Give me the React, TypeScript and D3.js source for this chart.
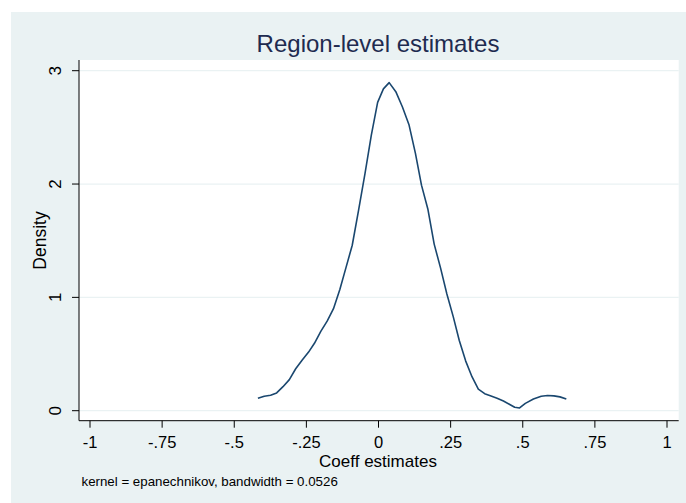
import React from "react";
import * as d3 from "d3";

// Kernel density estimate of the region-level coefficients (evaluation grid and density)
const coeffGrid: number[] = [
  -0.418, -0.396, -0.374, -0.353, -0.331, -0.309, -0.287, -0.265, -0.243, -0.222,
  -0.2, -0.178, -0.156, -0.134, -0.113, -0.091, -0.069, -0.047, -0.025, -0.003,
  0.017, 0.037, 0.06, 0.083, 0.106, 0.128, 0.149, 0.171, 0.193, 0.215,
  0.237, 0.259, 0.28, 0.302, 0.324, 0.346, 0.368, 0.39, 0.411, 0.433,
  0.455, 0.472, 0.489, 0.509, 0.537, 0.564, 0.586, 0.608, 0.629, 0.651,
];
const densityValues: number[] = [
  0.109, 0.128, 0.136, 0.157, 0.212, 0.274, 0.37, 0.445, 0.515, 0.595,
  0.7, 0.79, 0.9, 1.07, 1.26, 1.46, 1.77, 2.09, 2.43, 2.72,
  2.84, 2.895, 2.815, 2.68, 2.52, 2.27, 1.99, 1.78, 1.47, 1.26,
  1.03, 0.83, 0.62, 0.44, 0.3, 0.19, 0.15, 0.13, 0.11, 0.085,
  0.055, 0.03, 0.024, 0.065, 0.103, 0.127, 0.134, 0.131, 0.122, 0.103,
];

const xTicks: number[] = [-1, -0.75, -0.5, -0.25, 0, 0.25, 0.5, 0.75, 1];
const xTickLabels: string[] = ["-1", "-.75", "-.5", "-.25", "0", ".25", ".5", ".75", "1"];
const yTicks: number[] = [0, 1, 2, 3];

const titleText = "Region-level estimates";
const xTitle = "Coeff estimates";
const yTitle = "Density";
const noteText = "kernel = epanechnikov, bandwidth = 0.0526";

const W = 686;
const H = 503;
const plot = { left: 79, right: 678.7, top: 60, bottom: 420.7 };
const font = "'Liberation Sans', Arial, Helvetica, sans-serif";

export default function App() {
  const x = d3.scaleLinear().domain([-1, 1]).range([90, 667]);
  const y = d3.scaleLinear().domain([0, 3]).range([410.7, 70.7]);

  const points: [number, number][] = coeffGrid.map((c, i) => [c, densityValues[i]]);
  const line = d3
    .line<[number, number]>()
    .x((d) => x(d[0]))
    .y((d) => y(d[1]));

  return (
    <svg
      width={W}
      height={H}
      style={{ position: "absolute", left: 0, top: 0, display: "block" }}
      fontFamily={font}
    >
      <rect x={0} y={0} width={W} height={H} fill="#ffffff" />
      {/* graph region */}
      <rect x={11} y={12} width={W - 11} height={H - 12} fill="#eaf2f3" />
      {/* plot region */}
      <rect
        x={plot.left}
        y={plot.top}
        width={plot.right - plot.left}
        height={plot.bottom - plot.top}
        fill="#ffffff"
      />

      {/* horizontal grid lines */}
      {yTicks.map((t) => (
        <line
          key={"g" + t}
          x1={plot.left}
          x2={plot.right}
          y1={y(t)}
          y2={y(t)}
          stroke="#eaf2f3"
          strokeWidth={1.3}
        />
      ))}

      {/* title */}
      <text x={378} y={52} textAnchor="middle" fontSize={24} fill="#1e2b50">
        {titleText}
      </text>

      {/* density curve */}
      <path
        d={line(points) ?? ""}
        fill="none"
        stroke="#1a476f"
        strokeWidth={1.6}
        strokeLinejoin="round"
      />

      {/* axes */}
      <line x1={plot.left} x2={plot.left} y1={plot.top} y2={plot.bottom} stroke="#000" strokeWidth={1} />
      <line x1={plot.left} x2={plot.right} y1={plot.bottom} y2={plot.bottom} stroke="#000" strokeWidth={1} />

      {/* y ticks and labels */}
      {yTicks.map((t) => (
        <g key={"y" + t}>
          <line x1={plot.left - 7} x2={plot.left} y1={y(t)} y2={y(t)} stroke="#000" strokeWidth={1} />
          <text
            transform={`translate(${61},${y(t)}) rotate(-90)`}
            textAnchor="middle"
            fontSize={17}
            fill="#000"
          >
            {String(t)}
          </text>
        </g>
      ))}

      {/* x ticks and labels */}
      {xTicks.map((t, i) => (
        <g key={"x" + t}>
          <line x1={x(t)} x2={x(t)} y1={plot.bottom} y2={plot.bottom + 7} stroke="#000" strokeWidth={1} />
          <text x={x(t)} y={448} textAnchor="middle" fontSize={16.5} fill="#000">
            {xTickLabels[i]}
          </text>
        </g>
      ))}

      {/* axis titles */}
      <text x={378} y={466.5} textAnchor="middle" fontSize={17} fill="#000">
        {xTitle}
      </text>
      <text
        transform={`translate(46,240.5) rotate(-90)`}
        textAnchor="middle"
        fontSize={17.5}
        fill="#000"
      >
        {yTitle}
      </text>

      {/* note */}
      <text x={81.5} y={486} fontSize={13.3} fill="#000">
        {noteText}
      </text>
    </svg>
  );
}
